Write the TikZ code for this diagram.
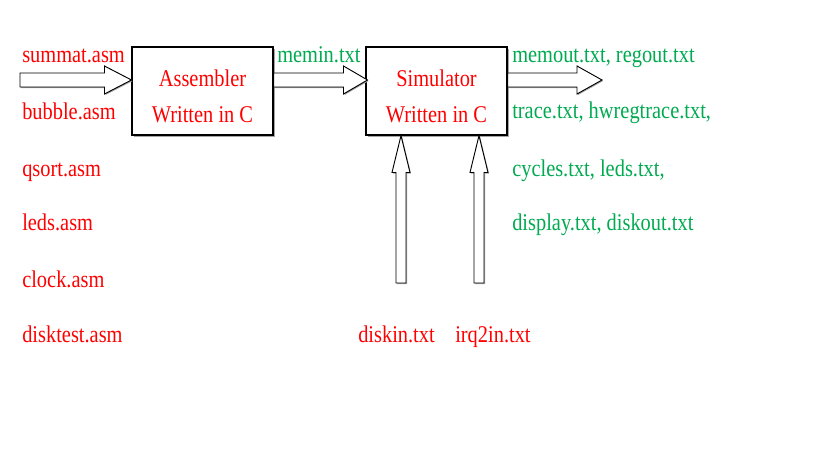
\documentclass[tikz,border=0pt]{standalone}
\usepackage{fontspec}
\setmainfont[FakeStretch=0.85]{Liberation Serif}
\usepackage{tikz}
\usetikzlibrary{positioning, calc, shadows}
\definecolor{srcred}{RGB}{255,0,0}
\definecolor{outgreen}{RGB}{0,170,80}
\newcommand{\SHAFT}{7}
\newcommand{\HEAD}{14}
\newcommand{\VSHAFT}{5}
\newcommand{\VHEAD}{9}

% horizontal block arrow: from, to, head length
\newcommand{\harrow}[3]{
    \draw[fatarrow] ( $ (#1) + (0, -\SHAFT) $ ) -- ( $ (#2) + (-#3, -\SHAFT) $ )
        -- ( $ (#2) + (-#3, -\HEAD) $ ) -- (#2) -- ( $ (#2) + (-#3, \HEAD) $ )
        -- ( $ (#2) + (-#3, \SHAFT) $ ) -- ( $ (#1) + (0, \SHAFT) $ ) -- cycle;
}
% vertical block arrow (pointing up): from, to, head length
\newcommand{\varrow}[3]{
    \draw[fatarrow] ( $ (#1) + (-\VSHAFT, 0) $ ) -- ( $ (#2) + (-\VSHAFT, #3) $ )
        -- ( $ (#2) + (-\VHEAD, #3) $ ) -- (#2) -- ( $ (#2) + (\VHEAD, #3) $ )
        -- ( $ (#2) + (\VSHAFT, #3) $ ) -- ( $ (#1) + (\VSHAFT, 0) $ ) -- cycle;
}

\begin{document}
\begin{tikzpicture}[x=0.75pt, y=-0.75pt,
        every node/.style={font=\fontsize{18}{22}\selectfont, inner sep=0pt},
        srclabel/.style={text=srcred, anchor=base west},
        outlabel/.style={text=outgreen, anchor=base west},
        boxtext/.style={text=srcred, anchor=base},
        toolbox/.style={draw, line width=0.8pt, fill=white, minimum width=141*0.75pt, minimum height=88*0.75pt,
                drop shadow={shadow xshift=1.2pt, shadow yshift=-1.2pt, fill=gray!70, opacity=1}},
        fatarrow/.style={draw, fill=white, line width=0.7pt,
                drop shadow={shadow xshift=0.8pt, shadow yshift=-0.8pt, fill=gray!70, opacity=1}}]

    \useasboundingbox (0, 0) rectangle (819, 460);

    % the two programs
    \node[toolbox] (asm) at (202.5, 91) {};
    \node[toolbox] (sim) at (436.5, 91) {};
    \node[boxtext] (asmname) at (202.5, 86.5) {Assembler};
    \node[boxtext] (asmlang) at (202.5, 123) {Written in C};
    \node[boxtext] (simname) at (436.5, 86.5) {Simulator};
    \node[boxtext] (simlang) at (436.5, 123) {Written in C};

    % arrow end points
    \coordinate (srcin) at (20, 80);
    \coordinate (asmin) at (asm.west |- srcin);
    \coordinate (asmout) at (asm.east |- srcin);
    \coordinate (simin) at ($ (sim.west |- srcin) + (2, 0) $);
    \coordinate (simout) at (sim.east |- srcin);
    \coordinate (outend) at (602, 80);
    \coordinate (diskfoot) at (401, 283);
    \coordinate (disktip) at (diskfoot |- sim.south);
    \coordinate (irqfoot) at (479, 283);
    \coordinate (irqtip) at (irqfoot |- sim.south);

    % block arrows
    \harrow{srcin}{asmin}{27}
    \harrow{asmout}{simin}{24}
    \harrow{simout}{outend}{25}
    \varrow{diskfoot}{disktip}{37}
    \varrow{irqfoot}{irqtip}{37}

    % assembly sources
    \foreach \i/\name/\y in {1/summat.asm/63, 2/bubble.asm/120, 3/qsort.asm/176,
            4/leds.asm/231, 5/clock.asm/287, 6/disktest.asm/342} {
            \node[srclabel] (src\i) at (22, \y) {\name};
        }

    % simulator outputs
    \node[outlabel] (memin) at (277, 63) {memin.txt};
    \foreach \i/\name/\y in {1/{memout.txt, regout.txt}/63, 2/{trace.txt, hwregtrace.txt,}/119,
            3/{cycles.txt, leds.txt,}/177, 4/{display.txt, diskout.txt}/231} {
            \node[outlabel] (out\i) at (512, \y) {\name};
        }

    % simulator inputs
    \node[srclabel] (diskin) at (358, 342) {diskin.txt};
    \node[srclabel] (irqin) at (455, 342) {irq2in.txt};
\end{tikzpicture}
\end{document}
